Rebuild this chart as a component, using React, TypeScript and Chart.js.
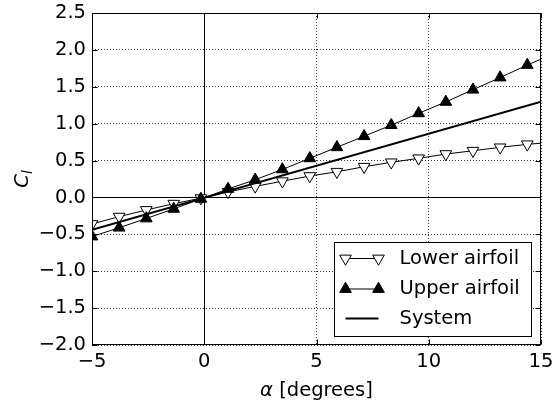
import React, { useEffect, useRef } from "react";
import { Chart, registerables } from "chart.js";

Chart.register(...registerables);

// ---------- data ----------
const ALPHA = [-5, -3.79, -2.58, -1.36, -0.15, 1.06, 2.27, 3.48, 4.7, 5.91, 7.12, 8.33, 9.55, 10.76, 11.97, 13.18, 14.39, 15];
const LOWER_CL = [-0.36, -0.26, -0.17, -0.085, -0.01, 0.075, 0.15, 0.22, 0.29, 0.348, 0.416, 0.476, 0.53, 0.588, 0.633, 0.679, 0.72, 0.735];
const UPPER_CL = [-0.53, -0.41, -0.285, -0.155, -0.02, 0.115, 0.24, 0.38, 0.53, 0.68, 0.83, 0.98, 1.14, 1.295, 1.46, 1.625, 1.795, 1.875];
const SYSTEM_ALPHA = [-5, 15];
const SYSTEM_CL = [-0.44, 1.297];

const X_TICKS = [-5, 0, 5, 10, 15];
const Y_TICKS = [-2, -1.5, -1, -0.5, 0, 0.5, 1, 1.5, 2, 2.5];

const LEGEND_LABELS = ["Lower airfoil", "Upper airfoil", "System"];
const X_TITLE_SYMBOL = "α";
const X_TITLE_REST = " [degrees]";
const Y_TITLE_MAIN = "C";
const Y_TITLE_SUB = "l";

// ---------- style ----------
const FAMILY = '"DejaVu Sans", sans-serif';
const FS = 19.5;
const MARKER_R = 6.75;

const minus = (s: string) => s.replace("-", "\u2212");

function tri(ctx: CanvasRenderingContext2D, cx: number, cy: number, r: number, down: boolean) {
  let rad = down ? Math.PI : 0;
  ctx.beginPath();
  for (let i = 0; i < 3; i++) {
    const px = cx + Math.sin(rad) * r;
    const py = cy - Math.cos(rad) * r;
    if (i === 0) ctx.moveTo(px, py);
    else ctx.lineTo(px, py);
    rad += (2 * Math.PI) / 3;
  }
  ctx.closePath();
}

const decor = {
  id: "decor",
  beforeDatasetsDraw(chart: any) {
    const { ctx, chartArea: a, scales } = chart;
    const x0 = Math.round(scales.x.getPixelForValue(0)) + 0.5;
    const y0 = Math.round(scales.y.getPixelForValue(0)) + 0.5;
    ctx.save();
    ctx.strokeStyle = "#000";
    ctx.lineWidth = 1;
    ctx.beginPath();
    ctx.moveTo(x0, a.top);
    ctx.lineTo(x0, a.bottom);
    ctx.moveTo(a.left, y0);
    ctx.lineTo(a.right, y0);
    ctx.stroke();
    ctx.restore();
  },
  afterDatasetsDraw(chart: any) {
    const { ctx, chartArea: a, scales } = chart;
    const L = Math.round(a.left) + 0.5;
    const R = Math.round(a.right) - 0.5;
    const T = Math.round(a.top) + 0.5;
    const B = Math.round(a.bottom) - 0.5;
    ctx.save();
    ctx.strokeStyle = "#000";
    ctx.lineWidth = 1;
    ctx.setLineDash([]);
    // frame
    ctx.strokeRect(L, T, R - L, B - T);
    // inward ticks
    const TL = 5;
    ctx.beginPath();
    X_TICKS.forEach((v) => {
      const px = Math.round(scales.x.getPixelForValue(v)) + 0.5;
      ctx.moveTo(px, B);
      ctx.lineTo(px, B - TL);
      ctx.moveTo(px, T);
      ctx.lineTo(px, T + TL);
    });
    Y_TICKS.forEach((v) => {
      const py = Math.round(scales.y.getPixelForValue(v)) + 0.5;
      ctx.moveTo(L, py);
      ctx.lineTo(L + TL, py);
      ctx.moveTo(R, py);
      ctx.lineTo(R - TL, py);
    });
    ctx.stroke();

    // legend
    const bw = 197, bh = 94;
    const bx = Math.round(a.right - 10 - bw) + 0.5;
    const by = Math.round(a.bottom - 9 - bh) + 0.5;
    ctx.fillStyle = "#fff";
    ctx.fillRect(bx, by, bw, bh);
    ctx.strokeRect(bx, by, bw, bh);
    const rows = [by + 16, by + 46.5, by + 76];
    const hx1 = bx + 11, hx2 = bx + 44, tx = bx + 65;
    ctx.font = `${FS}px ${FAMILY}`;
    ctx.textBaseline = "middle";
    ctx.textAlign = "left";
    rows.forEach((ry, i) => {
      ctx.beginPath();
      ctx.lineWidth = i === 2 ? 2 : 1;
      ctx.moveTo(hx1, ry);
      ctx.lineTo(hx2, ry);
      ctx.stroke();
      ctx.lineWidth = 1;
      if (i < 2) {
        [hx1, hx2].forEach((mx) => {
          tri(ctx, mx, ry, MARKER_R, i === 0);
          ctx.fillStyle = i === 0 ? "#fff" : "#000";
          ctx.fill();
          ctx.stroke();
        });
      }
      ctx.fillStyle = "#000";
      ctx.fillText(LEGEND_LABELS[i], tx, ry);
    });

    // x title
    ctx.textBaseline = "alphabetic";
    const fItal = `italic ${FS}px ${FAMILY}`;
    const fNorm = `${FS}px ${FAMILY}`;
    ctx.font = fItal;
    const w1 = ctx.measureText(X_TITLE_SYMBOL).width;
    ctx.font = fNorm;
    const w2 = ctx.measureText(X_TITLE_REST).width;
    const cx = (a.left + a.right) / 2;
    const sx = cx - (w1 + w2) / 2;
    const baseY = 396;
    ctx.font = fItal;
    ctx.fillText(X_TITLE_SYMBOL, sx, baseY);
    ctx.font = fNorm;
    ctx.fillText(X_TITLE_REST, sx + w1, baseY);

    // y title
    ctx.translate(21, (a.top + a.bottom) / 2);
    ctx.rotate(-Math.PI / 2);
    ctx.font = fItal;
    const wc = ctx.measureText(Y_TITLE_MAIN).width;
    const fSub = `italic ${FS * 0.7}px ${FAMILY}`;
    ctx.font = fSub;
    const wl = ctx.measureText(Y_TITLE_SUB).width;
    const st = -(wc + wl) / 2;
    ctx.font = fItal;
    ctx.fillText(Y_TITLE_MAIN, st, 7);
    ctx.font = fSub;
    ctx.fillText(Y_TITLE_SUB, st + wc, 11);
    ctx.restore();
  },
};

export default function App() {
  const ref = useRef<HTMLCanvasElement | null>(null);
  useEffect(() => {
    if (!ref.current) return;
    Chart.defaults.font.family = FAMILY;
    Chart.defaults.font.size = FS;
    Chart.defaults.color = "#000";
    const lastIdx = ALPHA.length - 1;
    const radii = ALPHA.map((_, i) => (i === lastIdx ? 0 : MARKER_R));
    const chart = new Chart(ref.current, {
      type: "line",
      data: {
        datasets: [
          {
            label: LEGEND_LABELS[0],
            data: ALPHA.map((x, i) => ({ x, y: LOWER_CL[i] })),
            borderColor: "#000",
            borderWidth: 1,
            pointStyle: "triangle",
            rotation: 180,
            pointRadius: radii,
            pointBackgroundColor: "#fff",
            pointBorderColor: "#000",
            pointBorderWidth: 1,
            order: 3,
            clip: 0,
          },
          {
            label: LEGEND_LABELS[1],
            data: ALPHA.map((x, i) => ({ x, y: UPPER_CL[i] })),
            borderColor: "#000",
            borderWidth: 1,
            pointStyle: "triangle",
            pointRadius: radii,
            pointBackgroundColor: "#000",
            pointBorderColor: "#000",
            pointBorderWidth: 1,
            order: 2,
            clip: 0,
          },
          {
            label: LEGEND_LABELS[2],
            data: SYSTEM_ALPHA.map((x, i) => ({ x, y: SYSTEM_CL[i] })),
            borderColor: "#000",
            borderWidth: 2,
            pointRadius: 0,
            order: 1,
            clip: 0,
          },
        ],
      },
      options: {
        animation: false,
        responsive: false,
        devicePixelRatio: 1,
        layout: { padding: { top: 13, right: 14, left: 0, bottom: 0 } },
        plugins: { legend: { display: false }, tooltip: { enabled: false } },
        elements: { line: { tension: 0 } },
        scales: {
          x: {
            type: "linear",
            min: -5,
            max: 15,
            afterBuildTicks: (s: any) => {
              s.ticks = X_TICKS.map((v) => ({ value: v }));
            },
            afterFit: (s: any) => {
              s.height = 59;
              s.paddingLeft = 0;
              s.paddingRight = 0;
            },
            ticks: {
              autoSkip: false,
              maxRotation: 0,
              padding: 5,
              color: "#000",
              font: { size: FS, family: FAMILY },
              callback: (v: any) => minus(String(v)),
            },
            grid: {
              drawTicks: false,
              color: "rgba(0,0,0,0.8)",
              lineWidth: 1,
            },
            border: { display: false, dash: [1, 2] },
          },
          y: {
            type: "linear",
            min: -2,
            max: 2.5,
            afterBuildTicks: (s: any) => {
              s.ticks = Y_TICKS.map((v) => ({ value: v }));
            },
            afterFit: (s: any) => {
              s.width = 92;
              s.paddingTop = 0;
              s.paddingBottom = 0;
            },
            ticks: {
              autoSkip: false,
              padding: 6,
              color: "#000",
              font: { size: FS, family: FAMILY },
              callback: (v: any) => minus(Number(v).toFixed(1)),
            },
            grid: {
              drawTicks: false,
              color: "rgba(0,0,0,0.8)",
              lineWidth: 1,
            },
            border: { display: false, dash: [1, 2] },
          },
        },
      },
      plugins: [decor],
    });
    return () => chart.destroy();
  }, []);
  return (
    <div style={{ position: "fixed", left: 0, top: 0, width: 555, height: 404, background: "#fff" }}>
      <canvas ref={ref} width={555} height={404} style={{ display: "block" }} />
    </div>
  );
}
